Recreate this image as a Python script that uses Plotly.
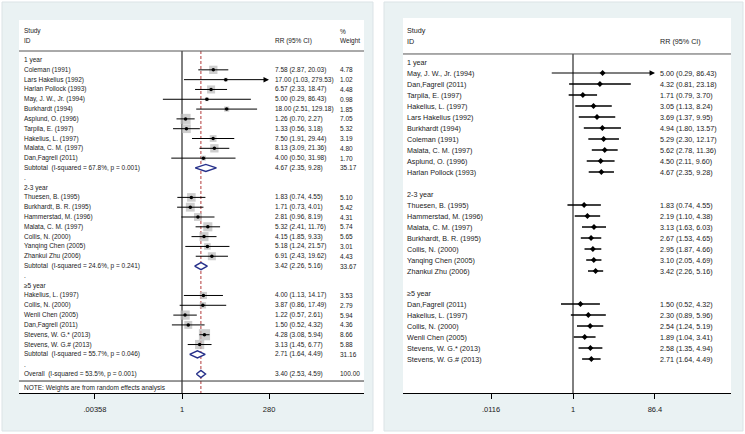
import numpy as np
import plotly.graph_objects as go

FONT = "Liberation Sans"
TXT = "#1a1a1a"

# ---------------- Left panel (random-effects forest plot) ----------------
left_labels = ["1 year", "Coleman (1991)", "Lars Hakelius (1992)", "Harlan Pollock (1993)",
               "May, J. W., Jr. (1994)", "Burkhardt (1994)", "Asplund, O. (1996)",
               "Tarpila, E. (1997)", "Hakelius, L. (1997)", "Malata, C. M. (1997)",
               "Dan,Fagrell (2011)", "Subtotal  (I-squared = 67.8%, p = 0.001)", ".",
               "2-3 year", "Thuesen, B. (1995)", "Burkhardt, B. R. (1995)", "Hammerstad, M. (1996)",
               "Malata, C. M. (1997)", "Collis, N. (2000)", "Yanqing Chen (2005)",
               "Zhankui Zhu (2006)", "Subtotal  (I-squared = 24.6%, p = 0.241)", ".",
               "≥5 year", "Hakelius, L. (1997)", "Collis, N. (2000)", "Wenli Chen (2005)",
               "Dan,Fagrell (2011)", "Stevens, W. G.* (2013)", "Stevens, W. G.# (2013)",
               "Subtotal  (I-squared = 55.7%, p = 0.046)", ".",
               "Overall  (I-squared = 53.5%, p = 0.001)"]
left_kind = ["h", "s", "s", "s", "s", "s", "s", "s", "s", "s", "s", "d", "b",
             "h", "s", "s", "s", "s", "s", "s", "s", "d", "b",
             "h", "s", "s", "s", "s", "s", "s", "d", "b", "d"]
left_est = [None, 7.58, 17.00, 6.57, 5.00, 18.00, 1.26, 1.33, 7.50, 8.13, 4.00, 4.67, None,
            None, 1.83, 1.71, 2.81, 5.32, 4.15, 5.18, 6.91, 3.42, None,
            None, 4.00, 3.87, 1.22, 1.50, 4.28, 3.13, 2.71, None, 3.40]
left_lo = [None, 2.87, 1.03, 2.33, 0.29, 2.51, 0.70, 0.56, 1.91, 3.09, 0.50, 2.35, None,
           None, 0.74, 0.73, 0.96, 2.41, 1.85, 1.24, 2.43, 2.26, None,
           None, 1.13, 0.86, 0.57, 0.52, 3.08, 1.45, 1.64, None, 2.53]
left_hi = [None, 20.03, 279.53, 18.47, 86.43, 129.18, 2.27, 3.18, 29.44, 21.36, 31.98, 9.28, None,
           None, 4.55, 4.01, 8.19, 11.76, 9.33, 21.57, 19.62, 5.16, None,
           None, 14.17, 17.49, 2.61, 4.32, 5.94, 6.77, 4.49, None, 4.59]
left_wt = [None, 4.78, 1.02, 4.48, 0.98, 1.85, 7.05, 5.32, 3.19, 4.80, 1.70, 35.17, None,
           None, 5.10, 5.42, 4.31, 5.74, 5.65, 3.01, 4.43, 33.67, None,
           None, 3.53, 2.79, 5.94, 4.36, 8.66, 5.88, 31.16, None, 100.00]
left_arrow_right = ["Lars Hakelius (1992)"]
left_ticks = [0.00358, 1, 280]
left_ticktext = [".00358", "1", "280"]
overall_rr = 3.40
note_text = "NOTE: Weights are from random effects analysis"

# ---------------- Right panel (cumulative estimates) ----------------
right_labels = ["1 year", "May, J. W., Jr. (1994)", "Dan,Fagrell (2011)", "Tarpila, E. (1997)",
                "Hakelius, L. (1997)", "Lars Hakelius (1992)", "Burkhardt (1994)", "Coleman (1991)",
                "Malata, C. M. (1997)", "Asplund, O. (1996)", "Harlan Pollock (1993)", "",
                "2-3 year", "Thuesen, B. (1995)", "Hammerstad, M. (1996)", "Malata, C. M. (1997)",
                "Burkhardt, B. R. (1995)", "Collis, N. (2000)", "Yanqing Chen (2005)",
                "Zhankui Zhu (2006)", "",
                "≥5 year", "Dan,Fagrell (2011)", "Hakelius, L. (1997)", "Collis, N. (2000)",
                "Wenli Chen (2005)", "Stevens, W. G.* (2013)", "Stevens, W. G.# (2013)"]
right_est = [None, 5.00, 4.32, 1.71, 3.05, 3.69, 4.94, 5.29, 5.62, 4.50, 4.67, None,
             None, 1.83, 2.19, 3.13, 2.67, 2.95, 3.10, 3.42, None,
             None, 1.50, 2.30, 2.54, 1.89, 2.58, 2.71]
right_lo = [None, 0.29, 0.81, 0.79, 1.13, 1.37, 1.80, 2.30, 2.78, 2.11, 2.35, None,
            None, 0.74, 1.10, 1.63, 1.53, 1.87, 2.05, 2.26, None,
            None, 0.52, 0.89, 1.24, 1.04, 1.35, 1.64]
right_hi = [None, 86.43, 23.18, 3.70, 8.24, 9.95, 13.57, 12.17, 11.36, 9.60, 9.28, None,
            None, 4.55, 4.38, 6.03, 4.65, 4.66, 4.69, 5.16, None,
            None, 4.32, 5.96, 5.19, 3.41, 4.94, 4.49]
right_ticks = [0.0116, 1, 86.4]
right_ticktext = [".0116", "1", "86.4"]

# ---------------- Figure geometry ----------------
W, H = 745, 434
def px(x):
    return x / W
def py(y):
    return 1 - y / H

fig = go.Figure()

LX0, LX1 = 19, 364
RX0, RX1 = 403, 731

shapes = []
for (x0, y0, x1, y1) in [(2, 2, 373, 431), (384, 2, 743, 431)]:
    shapes.append(dict(type="rect", xref="paper", yref="paper", x0=px(x0), x1=px(x1),
                       y0=py(y1), y1=py(y0), fillcolor="#eaf2f3",
                       line=dict(color="#dbe3e6", width=1), layer="below"))
for (x0, y0, x1, y1) in [(LX0, 20, LX1, 393), (RX0, 18, RX1, 393)]:
    shapes.append(dict(type="rect", xref="paper", yref="paper", x0=px(x0), x1=px(x1),
                       y0=py(y1), y1=py(y0), fillcolor="white",
                       line=dict(width=0), layer="below"))

L_top_row, L_bot_row = -4.08, 33.94
R_top_row, R_bot_row = -4.0, 30.09
L_head_line = -0.92
R_head_line = -0.73

shapes.append(dict(type="line", xref="paper", yref="y", x0=px(LX0), x1=px(LX1),
                   y0=L_head_line, y1=L_head_line, line=dict(color="#555", width=1)))
shapes.append(dict(type="line", xref="paper", yref="y", x0=px(LX0), x1=px(LX1),
                   y0=32.72, y1=32.72, line=dict(color="#333", width=1)))
shapes.append(dict(type="line", xref="paper", yref="y2", x0=px(RX0), x1=px(RX1),
                   y0=R_head_line, y1=R_head_line, line=dict(color="#555", width=1)))

annotations = []
def txt(x, y, text, yref, size, anchor="left"):
    annotations.append(dict(x=px(x), y=y, xref="paper", yref=yref, text=text,
                            showarrow=False, xanchor=anchor, yanchor="middle",
                            borderpad=0, font=dict(family=FONT, size=size, color=TXT)))

LS = 6.5
RS = 7.2
txt(23, -2.95, "Study", "y", LS)
txt(23, -1.94, "ID", "y", LS)
txt(274, -1.94, "RR (95% CI)", "y", LS)
txt(339, -2.95, "%", "y", LS)
txt(339, -1.94, "Weight", "y", LS)
txt(406, -2.9, "Study", "y2", RS)
txt(406, -1.82, "ID", "y2", RS)
txt(659, -1.82, "RR (95% CI)", "y2", RS)
txt(23, 33.4, note_text, "y", LS)

fig.add_trace(go.Scatter(x=[1, 1], y=[L_head_line, L_bot_row], mode="lines",
                         line=dict(color="black", width=1), xaxis="x", yaxis="y",
                         hoverinfo="skip", showlegend=False))
fig.add_trace(go.Scatter(x=[overall_rr, overall_rr], y=[L_head_line, L_bot_row], mode="lines",
                         line=dict(color="#b23a3a", width=1, dash="3px,2px"), xaxis="x", yaxis="y",
                         hoverinfo="skip", showlegend=False))
fig.add_trace(go.Scatter(x=[1, 1], y=[R_head_line, R_bot_row], mode="lines",
                         line=dict(color="black", width=1), xaxis="x2", yaxis="y2",
                         hoverinfo="skip", showlegend=False))

box_x, box_y, box_s = [], [], []
dot_x, dot_y = [], []
for i, lab in enumerate(left_labels):
    k = left_kind[i]
    txt(23, i, lab, "y", LS)
    if k in ("s", "d"):
        e, lo, hi, w = left_est[i], left_lo[i], left_hi[i], left_wt[i]
        txt(274, i, f"{e:.2f} ({lo:.2f}, {hi:.2f})", "y", LS)
        txt(339, i, f"{w:.2f}", "y", LS)
    if k == "s":
        box_x.append(e); box_y.append(i); box_s.append(3.8 * np.sqrt(w))
        dot_x.append(e); dot_y.append(i)

fig.add_trace(go.Scatter(x=box_x, y=box_y, mode="markers", xaxis="x", yaxis="y",
                         marker=dict(symbol="square", size=box_s, color="#b9b9b9",
                                     line=dict(width=0)),
                         hoverinfo="skip", showlegend=False))
for i, lab in enumerate(left_labels):
    if left_kind[i] == "s":
        lo, hi = left_lo[i], left_hi[i]
        if lab in left_arrow_right and i == 2:
            annotations.append(dict(x=np.log10(hi), y=i, ax=np.log10(lo), ay=i,
                                    xref="x", yref="y", axref="x", ayref="y", text="",
                                    showarrow=True, arrowhead=2, arrowsize=1.1,
                                    arrowwidth=1, arrowcolor="black"))
        else:
            fig.add_trace(go.Scatter(x=[lo, hi], y=[i, i], mode="lines", xaxis="x", yaxis="y",
                                     line=dict(color="black", width=1),
                                     hoverinfo="skip", showlegend=False))
    elif left_kind[i] == "d":
        e, lo, hi = left_est[i], left_lo[i], left_hi[i]
        h = 0.36
        fig.add_trace(go.Scatter(x=[lo, e, hi, e, lo], y=[i, i - h, i, i + h, i],
                                 mode="lines", fill="toself", fillcolor="white",
                                 xaxis="x", yaxis="y",
                                 line=dict(color="#26308a", width=1.4),
                                 hoverinfo="skip", showlegend=False))
fig.add_trace(go.Scatter(x=dot_x, y=dot_y, mode="markers", xaxis="x", yaxis="y",
                         marker=dict(symbol="circle", size=3.5, color="black"),
                         hoverinfo="skip", showlegend=False))

rdx, rdy = [], []
for i, lab in enumerate(right_labels):
    if lab:
        txt(406, i, lab, "y2", RS)
    e = right_est[i]
    if e is None:
        continue
    lo, hi = right_lo[i], right_hi[i]
    txt(659, i, f"{e:.2f} ({lo:.2f}, {hi:.2f})", "y2", RS)
    if hi > right_ticks[-1]:
        annotations.append(dict(x=np.log10(right_ticks[-1]), y=i, ax=np.log10(lo), ay=i,
                                xref="x2", yref="y2", axref="x2", ayref="y2", text="",
                                showarrow=True, arrowhead=2, arrowsize=0.9,
                                arrowwidth=1.2, arrowcolor="black"))
    else:
        fig.add_trace(go.Scatter(x=[lo, hi], y=[i, i], mode="lines", xaxis="x2", yaxis="y2",
                                 line=dict(color="black", width=1.5),
                                 hoverinfo="skip", showlegend=False))
    rdx.append(e); rdy.append(i)
fig.add_trace(go.Scatter(x=rdx, y=rdy, mode="markers", xaxis="x2", yaxis="y2",
                         marker=dict(symbol="diamond", size=4.5, color="black"),
                         hoverinfo="skip", showlegend=False))

# pixel scale of each log axis (px per decade) and the value-1 position
Lpx, L1 = 35.57, 182
Rpx, R1 = 42.34, 573
axis_common = dict(type="log", showgrid=False, zeroline=False, showline=True,
                   linecolor="black", linewidth=1, ticks="outside", ticklen=5,
                   tickcolor="black", tickwidth=1,
                   tickfont=dict(family=FONT, size=7.5, color=TXT), ticklabelstandoff=4)
fig.update_layout(
    width=W, height=H, margin=dict(l=0, r=0, t=0, b=0),
    paper_bgcolor="white", plot_bgcolor="rgba(0,0,0,0)",
    showlegend=False,
    xaxis=dict(domain=[px(LX0), px(LX1)], range=[(LX0 - L1) / Lpx, (LX1 - L1) / Lpx],
               anchor="y", tickvals=left_ticks, ticktext=left_ticktext, **axis_common),
    yaxis=dict(domain=[py(393), py(20)], range=[L_bot_row, L_top_row], anchor="x",
               visible=False),
    xaxis2=dict(domain=[px(RX0), px(RX1)], range=[(RX0 - R1) / Rpx, (RX1 - R1) / Rpx],
                anchor="y2", tickvals=right_ticks, ticktext=right_ticktext, **axis_common),
    yaxis2=dict(domain=[py(393), py(18)], range=[R_bot_row, R_top_row], anchor="x2",
                visible=False),
    shapes=shapes, annotations=annotations,
)

fig.write_html("out.html", config={"displayModeBar": False},
               post_script="document.body.style.margin='0';document.body.style.overflow='hidden';")
